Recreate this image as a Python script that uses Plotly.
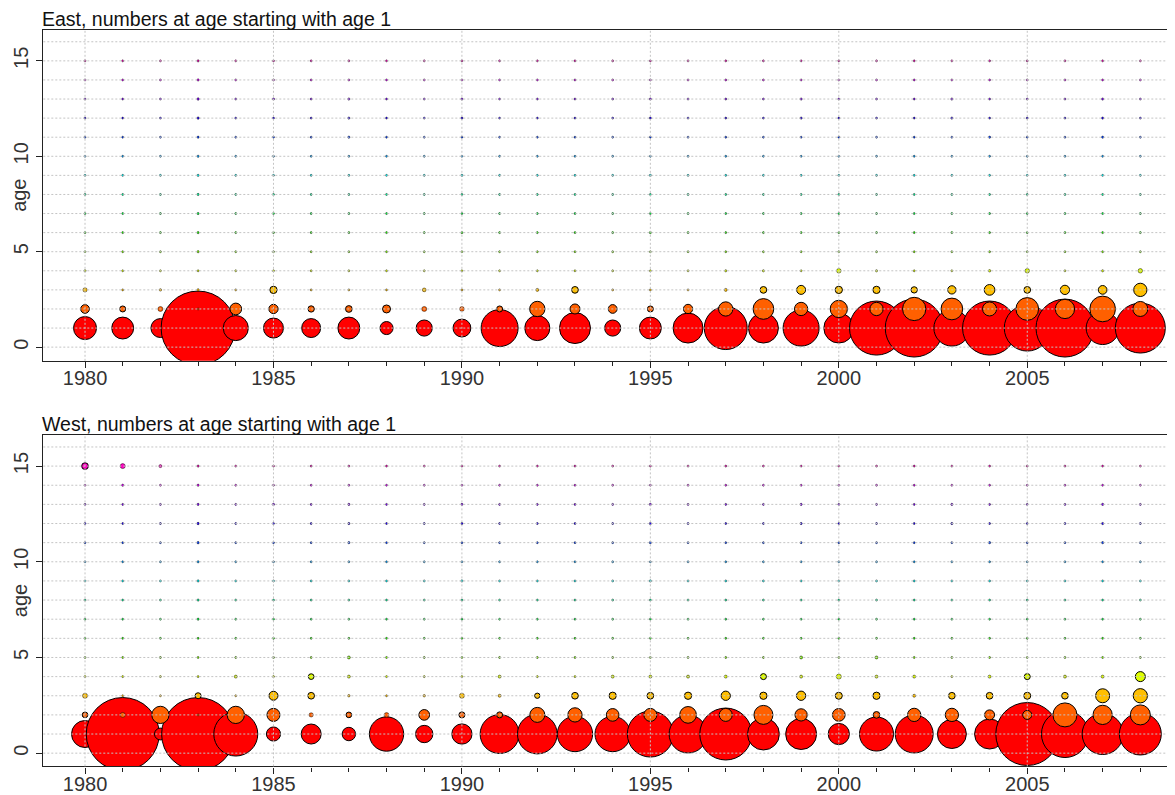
import math
import plotly.graph_objects as go

# ---------------- data ----------------
years = list(range(1980, 2009))
ages = list(range(1, 16))
x_tick_vals = [1980, 1985, 1990, 1995, 2000, 2005]
y_tick_vals = [0, 5, 10, 15]
panel_titles = ["East, numbers at age starting with age 1",
                "West, numbers at age starting with age 1"]
y_label = "age"

# East: numbers at age (relative units), one list per age, years 1980..2008
east_age1 = [53, 48, 36, 548, 63, 40, 36, 48, 17, 26, 32, 137, 63, 96, 26, 48, 90, 185, 90, 130,
             90, 292, 336, 130, 292, 212, 336, 109, 250]
east_age2 = [7.6, 3.6, 2.5, 0.4, 13.7, 8.6, 4.0, 4.5, 6.4, 2.5, 2.2, 3.6, 23.4, 10.0, 7.6, 3.6, 8.6, 20.4,
             42.8, 17.7, 29.9, 17.7, 54.3, 47.1, 19.6, 51.5, 37.2, 66.0, 22.5]
east_age3 = [1.8, 0.4, 0.6, 0.6, 0.4, 5.3, 0.4, 0.4, 0.4, 1.4, 0.4, 0.4, 0.9, 4.5, 0.4, 0.4, 0.4, 0.9,
             4.5, 8.1, 5.3, 5.3, 4.0, 6.9, 11.4, 4.5, 8.6, 7.6, 17.7]
east_age4 = [0.5, 0.4, 0.4, 0.4, 0.4, 0.4, 0.4, 0.4, 0.4, 0.4, 0.4, 0.4, 0.4, 0.4, 0.4, 0.4, 0.4, 0.5,
             0.5, 0.4, 2.0, 0.5, 0.4, 0.4, 0.6, 2.0, 0.4, 0.5, 2.0]
east_age5_15 = [
    [0.4, 0.4, 0.4, 0.5, 0.4, 0.4, 0.4, 0.4, 0.4, 0.4, 0.4, 0.4, 0.4, 0.4, 0.4, 0.4, 0.4, 0.4, 0.4, 0.4, 0.4, 0.4, 0.4, 0.4, 0.4, 0.4, 0.4, 0.4, 0.4],
    [0.4, 0.4, 0.4, 0.5, 0.4, 0.4, 0.4, 0.4, 0.4, 0.4, 0.5, 0.4, 0.4, 0.4, 0.4, 0.5, 0.4, 0.4, 0.4, 0.4, 0.4, 0.4, 0.4, 0.4, 0.4, 0.4, 0.4, 0.4, 0.4],
    [0.4, 0.4, 0.4, 0.5, 0.4, 0.4, 0.4, 0.4, 0.4, 0.4, 0.4, 0.4, 0.4, 0.4, 0.4, 0.4, 0.4, 0.4, 0.4, 0.4, 0.4, 0.4, 0.4, 0.4, 0.4, 0.4, 0.4, 0.4, 0.4],
    [0.4, 0.4, 0.4, 0.5, 0.4, 0.4, 0.4, 0.4, 0.4, 0.4, 0.4, 0.4, 0.4, 0.4, 0.4, 0.4, 0.4, 0.4, 0.4, 0.4, 0.4, 0.4, 0.4, 0.4, 0.4, 0.4, 0.4, 0.4, 0.4],
    [0.4, 0.4, 0.4, 0.5, 0.4, 0.4, 0.4, 0.4, 0.4, 0.4, 0.5, 0.4, 0.4, 0.4, 0.4, 0.5, 0.4, 0.4, 0.4, 0.4, 0.4, 0.4, 0.4, 0.4, 0.4, 0.4, 0.4, 0.4, 0.4],
    [0.4, 0.4, 0.4, 0.5, 0.4, 0.4, 0.4, 0.4, 0.4, 0.4, 0.4, 0.4, 0.4, 0.4, 0.4, 0.4, 0.4, 0.4, 0.4, 0.4, 0.4, 0.4, 0.4, 0.4, 0.4, 0.4, 0.4, 0.4, 0.4],
    [0.4, 0.4, 0.4, 0.5, 0.4, 0.4, 0.4, 0.5, 0.4, 0.4, 0.4, 0.4, 0.4, 0.4, 0.4, 0.4, 0.4, 0.4, 0.4, 0.4, 0.4, 0.4, 0.4, 0.4, 0.5, 0.4, 0.4, 0.5, 0.4],
    [0.4, 0.4, 0.4, 0.6, 0.4, 0.4, 0.4, 0.5, 0.4, 0.4, 0.5, 0.4, 0.4, 0.4, 0.4, 0.5, 0.4, 0.4, 0.4, 0.5, 0.4, 0.4, 0.4, 0.5, 0.4, 0.4, 0.4, 0.5, 0.4],
    [0.4, 0.4, 0.4, 0.6, 0.4, 0.5, 0.4, 0.5, 0.4, 0.4, 0.5, 0.4, 0.4, 0.4, 0.4, 0.5, 0.4, 0.4, 0.4, 0.5, 0.4, 0.4, 0.4, 0.5, 0.4, 0.4, 0.4, 0.5, 0.4],
    [0.4, 0.4, 0.4, 0.5, 0.4, 0.4, 0.4, 0.4, 0.4, 0.4, 0.4, 0.4, 0.4, 0.4, 0.4, 0.4, 0.4, 0.4, 0.4, 0.4, 0.4, 0.4, 0.4, 0.4, 0.4, 0.4, 0.4, 0.4, 0.4],
    [0.4, 0.4, 0.4, 0.5, 0.4, 0.4, 0.4, 0.4, 0.4, 0.4, 0.4, 0.4, 0.4, 0.4, 0.4, 0.4, 0.4, 0.4, 0.4, 0.4, 0.4, 0.4, 0.4, 0.4, 0.4, 0.4, 0.4, 0.4, 0.4],
]

# West
west_age1 = [73, 533, 14, 533, 194, 20, 40, 18, 118, 30, 41, 152, 158, 125, 125, 212, 144, 270, 102, 96,
             45, 116, 144, 84, 90, 397, 221, 168, 176]
west_age2 = [3.2, 2.5, 29.9, 0.4, 29.9, 16.9, 1.8, 3.2, 2.2, 11.4, 3.6, 3.6, 22.5, 20.4, 16.1, 16.9, 27.9,
             16.9, 36.1, 15.1, 16.1, 4.5, 17.7, 17.7, 10.0, 8.1, 57.6, 37.2, 40.0]
west_age3 = [2.5, 0.4, 0.4, 3.6, 0.4, 8.1, 4.5, 0.6, 0.4, 0.6, 2.5, 0.9, 2.8, 4.5, 5.3, 4.5, 5.3, 8.6,
             5.3, 8.6, 4.9, 5.3, 0.9, 4.5, 4.5, 4.9, 4.5, 19.6, 20.4]
west_age4 = [0.4, 0.4, 0.4, 0.4, 0.9, 0.4, 3.2, 0.9, 0.4, 0.4, 0.4, 0.9, 0.4, 0.4, 0.9, 0.9, 0.9, 0.9,
             3.6, 0.9, 2.5, 0.9, 0.9, 0.4, 0.9, 3.6, 0.9, 0.9, 10.0]
west_age5_15 = [
    [0.4, 0.4, 0.4, 0.4, 0.4, 0.4, 0.4, 0.9, 0.4, 0.4, 0.4, 0.4, 0.4, 0.4, 0.4, 0.4, 0.4, 0.4, 0.4, 0.9, 0.4, 0.9, 0.4, 0.4, 0.4, 0.4, 0.4, 0.4, 0.4],
    [0.4, 0.4, 0.4, 0.4, 0.4, 0.4, 0.4, 0.4, 0.4, 0.4, 0.4, 0.4, 0.4, 0.4, 0.4, 0.4, 0.4, 0.4, 0.4, 0.4, 0.4, 0.4, 0.4, 0.4, 0.4, 0.4, 0.4, 0.4, 0.4],
    [0.4, 0.4, 0.4, 0.5, 0.4, 0.4, 0.4, 0.4, 0.4, 0.4, 0.4, 0.4, 0.4, 0.4, 0.4, 0.4, 0.4, 0.4, 0.4, 0.4, 0.4, 0.4, 0.4, 0.4, 0.4, 0.4, 0.4, 0.4, 0.4],
    [0.4, 0.4, 0.4, 0.5, 0.4, 0.4, 0.4, 0.4, 0.4, 0.4, 0.4, 0.4, 0.4, 0.4, 0.4, 0.4, 0.4, 0.4, 0.4, 0.4, 0.4, 0.4, 0.4, 0.4, 0.4, 0.4, 0.4, 0.4, 0.4],
    [0.4, 0.4, 0.4, 0.5, 0.4, 0.4, 0.4, 0.4, 0.4, 0.4, 0.5, 0.4, 0.4, 0.4, 0.4, 0.5, 0.4, 0.4, 0.4, 0.4, 0.4, 0.4, 0.4, 0.4, 0.4, 0.4, 0.4, 0.4, 0.4],
    [0.4, 0.4, 0.4, 0.5, 0.4, 0.4, 0.4, 0.4, 0.4, 0.4, 0.4, 0.4, 0.4, 0.4, 0.4, 0.4, 0.4, 0.4, 0.4, 0.4, 0.4, 0.4, 0.4, 0.4, 0.4, 0.4, 0.4, 0.4, 0.4],
    [0.4, 0.4, 0.4, 0.6, 0.4, 0.4, 0.4, 0.5, 0.4, 0.4, 0.4, 0.4, 0.4, 0.4, 0.4, 0.5, 0.4, 0.4, 0.4, 0.4, 0.4, 0.4, 0.4, 0.4, 0.5, 0.4, 0.4, 0.5, 0.4],
    [0.4, 0.4, 0.4, 0.6, 0.4, 0.4, 0.4, 0.5, 0.4, 0.4, 0.5, 0.4, 0.4, 0.4, 0.4, 0.5, 0.4, 0.4, 0.4, 0.5, 0.4, 0.4, 0.4, 0.5, 0.4, 0.4, 0.4, 0.5, 0.4],
    [0.4, 0.4, 0.4, 0.5, 0.4, 0.5, 0.4, 0.5, 0.4, 0.4, 0.5, 0.4, 0.4, 0.4, 0.4, 0.5, 0.4, 0.4, 0.4, 0.5, 0.4, 0.4, 0.4, 0.5, 0.4, 0.4, 0.4, 0.5, 0.4],
    [0.4, 0.5, 0.4, 0.5, 0.4, 0.4, 0.4, 0.4, 0.4, 0.4, 0.4, 0.4, 0.4, 0.4, 0.4, 0.4, 0.4, 0.4, 0.4, 0.4, 0.4, 0.4, 0.4, 0.4, 0.4, 0.4, 0.4, 0.4, 0.4],
    [4.5, 2.5, 0.9, 0.5, 0.4, 0.4, 0.4, 0.4, 0.4, 0.4, 0.4, 0.4, 0.4, 0.4, 0.4, 0.4, 0.4, 0.4, 0.4, 0.4, 0.4, 0.4, 0.4, 0.4, 0.4, 0.4, 0.4, 0.4, 0.4],
]

east_numbers = [east_age1, east_age2, east_age3, east_age4] + east_age5_15
west_numbers = [west_age1, west_age2, west_age3, west_age4] + west_age5_15

# ---------------- styles ----------------
age_colors = ["#FF0000", "#FF6000", "#FFBF00", "#DFFF00", "#80FF00", "#20FF00", "#00FF40",
              "#00FF9F", "#00FFFF", "#009FFF", "#0040FF", "#2000FF", "#8000FF", "#DF00FF", "#FF00BF"]
FONT = "Arial, Liberation Sans, sans-serif"
OFF = 8                      # page body margin of the html page
W, H = 1175 - OFF, 795 - OFF  # figure size that fits the window
MAX_DIAM = 74.0
vmax = max(max(max(r) for r in east_numbers), max(max(r) for r in west_numbers))

fig = go.Figure()


def add_panel(numbers, xa, ya):
    for i, age in enumerate(ages):
        vals = numbers[i]
        sizes = [MAX_DIAM * math.sqrt(v / vmax) for v in vals]
        lws = [1.0 if s > 5 else 0.45 for s in sizes]
        fig.add_trace(go.Scatter(
            x=years, y=[age] * len(years), mode="markers",
            marker=dict(size=sizes, sizemode="diameter", color=age_colors[i], opacity=1,
                        line=dict(color="black", width=lws)),
            xaxis=xa, yaxis=ya, showlegend=False, hoverinfo="x+y"))


add_panel(east_numbers, "x", "y")
add_panel(west_numbers, "x2", "y2")


def px_x(p):
    return (p - OFF) / W


def px_y(p):
    return 1 - (p - OFF) / H


x_dom = [px_x(43.3), 1.0]
dom1 = [px_y(361.7), px_y(30)]
dom2 = [px_y(768.3), px_y(436)]
xrange_ = [1978.893, 2008.92]

axis_common_x = dict(
    range=xrange_, showgrid=False, zeroline=False, showline=True, mirror=True,
    linecolor="#222", linewidth=1.4, ticks="outside", ticklen=6, tickwidth=1, tickcolor="#222",
    tickmode="array", tickvals=x_tick_vals, ticktext=[str(v) for v in x_tick_vals],
    tickfont=dict(family=FONT, size=20, color="#333"), ticklabelstandoff=-7,
    minor=dict(tickmode="array", tickvals=years, ticks="outside", ticklen=4, tickcolor="#222", showgrid=False),
)
axis_common_y = dict(
    showgrid=False, zeroline=False, showline=True, mirror=False,
    linecolor="#222", linewidth=1.4, ticks="outside", ticklen=6, tickwidth=1, tickcolor="#222",
    tickmode="array", tickvals=y_tick_vals, ticktext=[str(v) for v in y_tick_vals], tickangle=-90,
    tickfont=dict(family=FONT, size=20, color="#333"),
)

fig.update_layout(
    width=W, height=H, margin=dict(l=0, r=0, t=0, b=0),
    paper_bgcolor="white", plot_bgcolor="white",
    xaxis=dict(domain=x_dom, anchor="y", **axis_common_x),
    yaxis=dict(domain=dom1, anchor="x", range=[-0.716, 16.62], **axis_common_y),
    xaxis2=dict(domain=x_dom, anchor="y2", **axis_common_x),
    yaxis2=dict(domain=dom2, anchor="x2", range=[-0.69, 16.63], **axis_common_y),
)

# reference grid drawn above the bubbles (as in the original)
grid_style = dict(color="#C4C4C4", width=1, dash="2px,2px")
shapes = []
for xa, ya in (("x", "y"), ("x2", "y2")):
    for a in range(0, 17):
        shapes.append(dict(type="line", xref=f"{xa} domain", x0=0, x1=1, yref=ya, y0=a, y1=a,
                           line=grid_style, layer="above"))
    for yr in x_tick_vals:
        shapes.append(dict(type="line", xref=xa, x0=yr, x1=yr, yref=f"{ya} domain", y0=0, y1=1,
                           line=grid_style, layer="above"))
fig.update_layout(shapes=shapes)

annotations = []
for (xa, ya), title in zip((("x", "y"), ("x2", "y2")), panel_titles):
    annotations.append(dict(text=title, xref=f"{xa} domain", yref=f"{ya} domain", x=0, y=1,
                            xanchor="left", yanchor="bottom", showarrow=False, xshift=-2, yshift=-1,
                            borderpad=0, font=dict(family=FONT, size=19.5, color="#111")))
    annotations.append(dict(text=y_label, xref="paper", yref=f"{ya} domain", x=px_x(19.5), y=0.5,
                            xanchor="center", yanchor="middle", textangle=-90, showarrow=False,
                            font=dict(family=FONT, size=20, color="#333")))
fig.update_layout(annotations=annotations)

fig.write_html("out.html")
